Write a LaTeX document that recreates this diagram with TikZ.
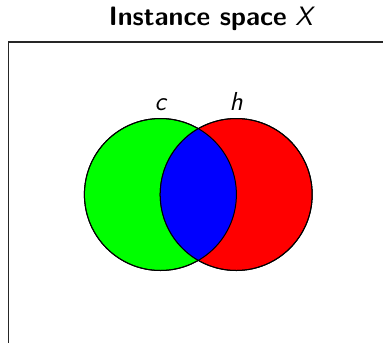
\documentclass[tikz,border=0pt]{standalone}
\usepackage{tikz}
\usetikzlibrary{positioning}

\begin{document}
\begin{tikzpicture}[
    x=0.5pt, y=-0.5pt,
    every node/.style={font=\sffamily\fontsize{13.3}{16}\selectfont},
    region/.style={draw=black, circle, minimum size=76pt, inner sep=0pt, line width=0.5pt},
    setlabel/.style={font=\sffamily\itshape\fontsize{13}{16}\selectfont},
    frame/.style={draw=black!85, line width=0.6pt}
]
\useasboundingbox (0,0) rectangle (383,342);

% instance space
\node (title) [anchor=base] at (212,26) {\textbf{Instance space} \textit{X}};
\draw [frame] (8.3,42) rectangle (420,380);

% the two sets
\node (cset) [region, fill=green] at (160.4,194.5) {};
\node (hset) [region, fill=red] at (236.2,194.5) {};
\begin{scope}
    \clip (cset.center) circle (38pt);
    \fill [blue] (hset.center) circle (38pt);
\end{scope}
\draw [line width=0.5pt] (cset.center) circle (38pt);
\draw [line width=0.5pt] (hset.center) circle (38pt);

\node (clabel) [setlabel, above=0pt of cset] {c};
\node (hlabel) [setlabel, above=0pt of hset] {h};

\end{tikzpicture}
\end{document}
